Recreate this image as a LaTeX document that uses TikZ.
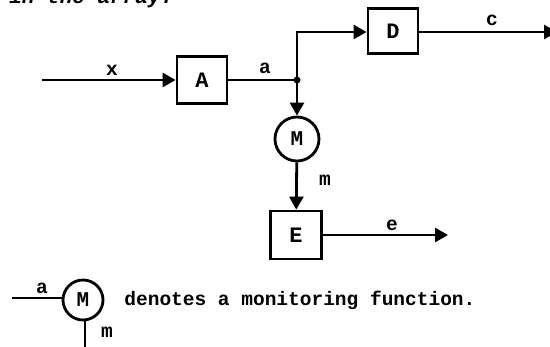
\documentclass[tikz,border=0pt]{standalone}
\usepackage{fontspec}
\setmonofont{Liberation Mono}
\usetikzlibrary{arrows.meta}

\begin{document}
\begin{tikzpicture}[line width=2.8pt, line join=miter, >={Triangle[length=13pt,width=14pt]},
    x=1pt, y=-1pt,
    every node/.style={font=\fontsize{19.5}{19.5}\selectfont\ttfamily\bfseries},
    blk/.style={draw, rectangle, minimum width=50pt, minimum height=47pt, inner sep=0pt,
      font=\fontsize{22}{22}\selectfont\ttfamily\bfseries},
    mon/.style={draw, circle, minimum size=44pt, inner sep=0pt,
      font=\fontsize{21}{21}\selectfont\ttfamily\bfseries},
    lbl/.style={inner sep=0pt}]
  % page frame, the caption line above is cut by the top edge
  \useasboundingbox (0,0) rectangle (550,347);
  \clip (0,0) rectangle (550,347);
  \node[lbl, anchor=base west, font=\fontsize{21}{21}\selectfont\ttfamily\bfseries\itshape] (cap) at (8,4) {in the array:};

  \node[blk] (A) at (202,80) {A};
  \node[blk, minimum height=45pt] (D) at (393,31) {D};
  \node[mon] (M) at (297,139) {M};
  \node[blk, minimum width=51pt, minimum height=48pt] (E) at (296,235) {E};

  \coordinate (xin) at (42,80);
  \coordinate (j) at (297,80);
  \coordinate (bend) at (297,32);
  \coordinate (cout) at (557,32);
  \coordinate (eout) at (448,235);

  \draw[->] (xin) -- (A);
  \draw (A) -- (j);
  \fill (j) circle (3.5pt);
  \draw[->] (j) -- (bend) -- (D.west |- bend);
  \draw[->] (D.east |- bend) -- (cout);
  \draw[->] (j) -- (M);
  \draw[->] (M) -- (E);
  \draw[->] (E) -- (eout);

  \node[lbl] (lx) at (112,70) {x};
  \node[lbl] (la) at (265,68) {a};
  \node[lbl] (lc) at (492,20) {c};
  \node[lbl] (lm) at (325,180) {m};
  \node[lbl] (le) at (392,225) {e};

  % legend
  \node[mon, minimum size=40pt] (Mk) at (83,300) {M};
  \coordinate (kin) at (12,298);
  \coordinate (kout) at (85,350);
  \draw (kin) -- (kin -| Mk.west);
  \draw (Mk.south -| kout) -- (kout);
  \node[lbl] (ka) at (42,288) {a};
  \node[lbl] (km) at (107,332) {m};
  \node[lbl, anchor=west] (txt) at (123,300) {denotes a monitoring function.};
\end{tikzpicture}
\end{document}
